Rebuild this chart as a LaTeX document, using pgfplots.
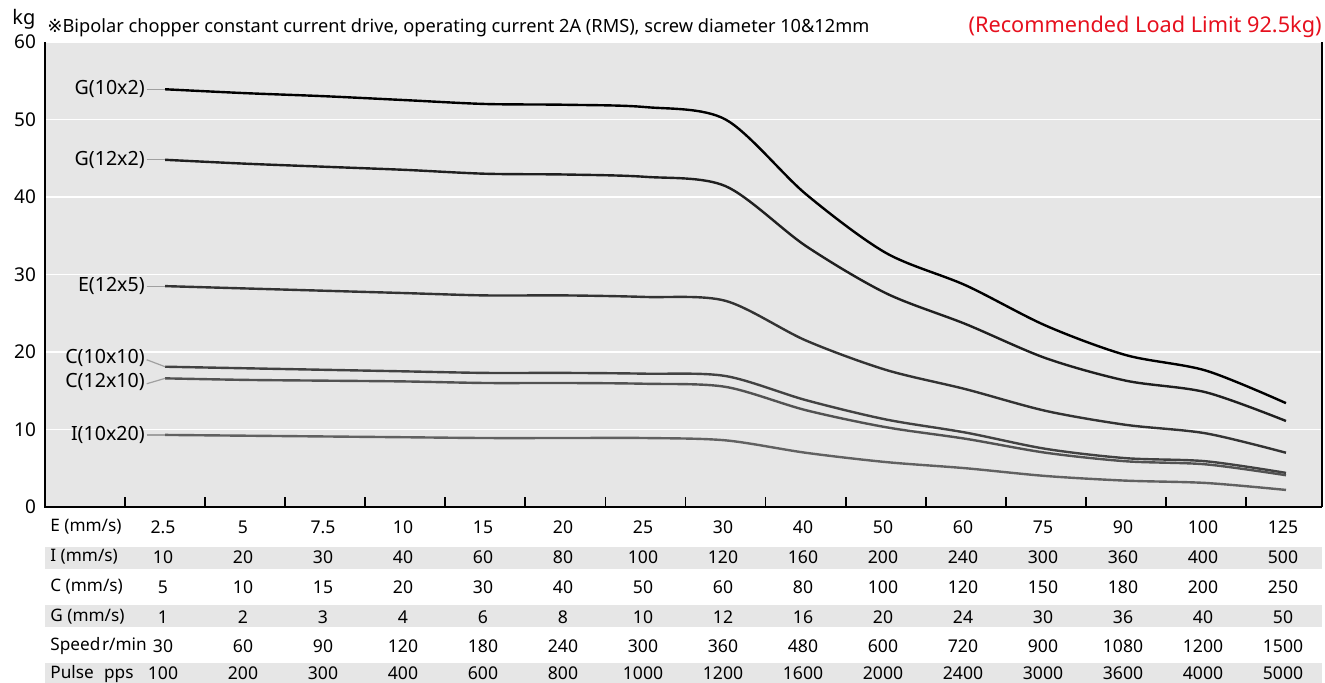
\documentclass[border=0pt]{standalone}
\usepackage{pgfplots}
\pgfplotsset{compat=1.18}
\usepackage{fontspec}
\setmainfont{Noto Sans}
\newfontfamily\symfont{DejaVu Sans}
\definecolor{bg}{RGB}{230,230,230}
\definecolor{limred}{RGB}{230,16,30}
\definecolor{leader}{RGB}{160,160,160}

\begin{document}
\begin{tikzpicture}[font=\fontsize{9}{11}\selectfont]
\useasboundingbox (-22.5pt,-88pt) rectangle (640pt,253.5pt);
% row bands of the speed table
\fill[bg] (0pt,-20pt) rectangle (638.5pt,-31pt);
\fill[bg] (0pt,-49pt) rectangle (638.5pt,-60pt);
\fill[bg] (0pt,-78pt) rectangle (638.5pt,-90pt);
\begin{axis}[
  at={(0,0)}, anchor=south west,
  scale only axis, width=638.5pt, height=232.5pt,
  xmin=-1.5, xmax=14.45, ymin=0, ymax=60,
  axis line style={draw=none},
  axis background/.style={fill=bg},
  ytick={0,10,...,60},
  ymajorgrids, grid style={white, line width=0.8pt},
  y tick style={draw=none},
  xtick={-0.5,0.5,...,13.5}, xticklabels={},
  xtick pos=left, tick align=inside, major tick length=5pt,
  x tick style={black, line width=0.9pt},
  yticklabel style={anchor=east, xshift=-1pt, font=\fontsize{9.5}{11}\selectfont},
  /pgf/number format/assume math mode=true,
  clip=false,
  every axis plot/.append style={smooth, tension=0.5, line width=1.2pt, no marks},
]
\addplot[color=black] coordinates {(0,53.9) (1,53.4) (2,53.0) (3,52.5) (4,52.0) (5,51.9) (6,51.6) (7,50.0) (8,40.4) (9,32.8) (10,28.6) (11,23.4) (12,19.6) (13,17.6) (14,13.4)};
\addplot[color=black!88] coordinates {(0,44.8) (1,44.3) (2,43.9) (3,43.5) (4,43.0) (5,42.9) (6,42.6) (7,41.4) (8,33.7) (9,27.6) (10,23.6) (11,19.2) (12,16.3) (13,14.8) (14,11.1)};
\addplot[color=black!80] coordinates {(0,28.5) (1,28.2) (2,27.9) (3,27.6) (4,27.3) (5,27.3) (6,27.1) (7,26.6) (8,21.5) (9,17.7) (10,15.2) (11,12.4) (12,10.6) (13,9.5) (14,7.0)};
\addplot[color=black!74] coordinates {(0,18.1) (1,17.9) (2,17.7) (3,17.5) (4,17.3) (5,17.3) (6,17.2) (7,16.9) (8,13.8) (9,11.3) (10,9.6) (11,7.5) (12,6.3) (13,5.9) (14,4.4)};
\addplot[color=black!68] coordinates {(0,16.6) (1,16.4) (2,16.3) (3,16.2) (4,16.0) (5,16.0) (6,15.9) (7,15.5) (8,12.5) (9,10.3) (10,8.8) (11,7.0) (12,5.9) (13,5.5) (14,4.1)};
\addplot[color=black!62] coordinates {(0,9.3) (1,9.2) (2,9.1) (3,9.0) (4,8.9) (5,8.9) (6,8.9) (7,8.6) (8,7.0) (9,5.8) (10,5.0) (11,4.0) (12,3.4) (13,3.1) (14,2.2)};
% frame: left, bottom, right
\draw[black, line width=1pt] (rel axis cs:0,1) -- (rel axis cs:0,0) -- (rel axis cs:1,0);
\draw[black, line width=0.6pt] (rel axis cs:1,0) -- (rel axis cs:1,1);
% curve labels
\begin{scope}[every node/.style={anchor=east, inner sep=0pt, font=\fontsize{9.8}{11}\selectfont}]
\draw[leader, line width=0.6pt] (axis cs:-0.23,53.9) -- (axis cs:0,53.9);
\node at (axis cs:-0.25,53.9) {G(10x2)};
\draw[leader, line width=0.6pt] (axis cs:-0.23,44.8) -- (axis cs:0,44.8);
\node at (axis cs:-0.25,44.8) {G(12x2)};
\draw[leader, line width=0.6pt] (axis cs:-0.23,28.5) -- (axis cs:0,28.5);
\node at (axis cs:-0.25,28.5) {E(12x5)};
\draw[leader, line width=0.6pt] (axis cs:-0.23,19.0) -- (axis cs:0,18.1);
\node at (axis cs:-0.25,19.2) {C(10x10)};
\draw[leader, line width=0.6pt] (axis cs:-0.23,15.9) -- (axis cs:0,16.6);
\node at (axis cs:-0.25,16.2) {C(12x10)};
\draw[leader, line width=0.6pt] (axis cs:-0.23,9.3) -- (axis cs:0,9.3);
\node at (axis cs:-0.25,9.3) {I(10x20)};
\end{scope}
\end{axis}
% heading
\node[anchor=base west, inner sep=0pt, font=\fontsize{10}{12}\selectfont] at (-16.5pt,241pt) {kg};
\node[anchor=base west, inner sep=0pt, font=\fontsize{9.1}{11}\selectfont] at (1pt,237pt) {{\symfont ※}Bipolar chopper constant current drive, operating current 2A (RMS), screw diameter 10\&12mm};
\node[anchor=base east, inner sep=0pt, text=limred, font=\fontsize{10.85}{12}\selectfont] at (638.5pt,237pt) {(Recommended Load Limit 92.5kg)};
% speed table: row names
\begin{scope}[every node/.style={anchor=west, inner sep=0pt, font=\fontsize{8.6}{10}\selectfont}]
\node at (2.5pt,-10pt) {E (mm/s)};
\node at (2.5pt,-25pt) {I (mm/s)};
\node at (2.5pt,-40pt) {C (mm/s)};
\node at (2.5pt,-55pt) {G (mm/s)};
\node at (2.5pt,-69.5pt) {Speed\hspace{0.1em}r/min};
\node at (2.5pt,-83.3pt) {Pulse\hspace{0.6em}pps};
\end{scope}
% speed table: values
\begin{scope}[every node/.style={inner sep=0pt, font=\fontsize{8.8}{11}\selectfont}]
\foreach \v [count=\i from 0] in {2.5,5,7.5,10,15,20,25,30,40,50,60,75,90,100,125}
  \node at (59pt+\i*40pt,-10pt) {\v};
\foreach \v [count=\i from 0] in {10,20,30,40,60,80,100,120,160,200,240,300,360,400,500}
  \node at (59pt+\i*40pt,-25pt) {\v};
\foreach \v [count=\i from 0] in {5,10,15,20,30,40,50,60,80,100,120,150,180,200,250}
  \node at (59pt+\i*40pt,-40pt) {\v};
\foreach \v [count=\i from 0] in {1,2,3,4,6,8,10,12,16,20,24,30,36,40,50}
  \node at (59pt+\i*40pt,-55pt) {\v};
\foreach \v [count=\i from 0] in {30,60,90,120,180,240,300,360,480,600,720,900,1080,1200,1500}
  \node at (59pt+\i*40pt,-69.5pt) {\v};
\foreach \v [count=\i from 0] in {100,200,300,400,600,800,1000,1200,1600,2000,2400,3000,3600,4000,5000}
  \node at (59pt+\i*40pt,-83.3pt) {\v};
\end{scope}
\end{tikzpicture}
\end{document}
